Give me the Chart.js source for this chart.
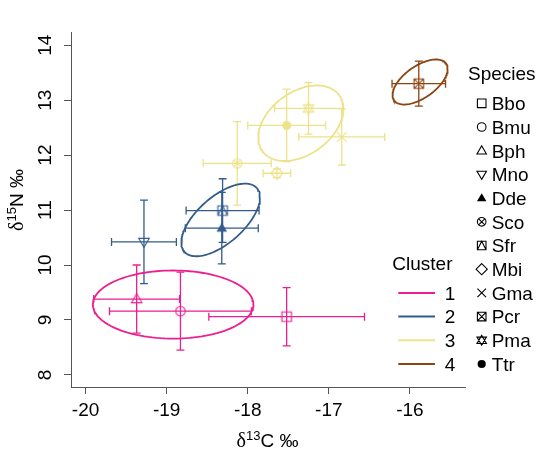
<!DOCTYPE html>
<html>
<head>
<meta charset="utf-8">
<script src="https://cdn.jsdelivr.net/npm/chart.js@4"></script>
<style>
html, body { margin: 0; padding: 0; background: #fff; }
canvas { display: block; }
</style>
</head>
<body>
<canvas id="isotope-chart" width="560" height="467"></canvas>
<script>
// Species means +/- SD (per mille)
var species = ["Bbo", "Bmu", "Bph", "Mno", "Dde", "Sco", "Sfr", "Mbi", "Gma", "Pcr", "Pma", "Ttr"];
var cluster = [1, 1, 1, 2, 2, 3, 2, 3, 3, 4, 3, 3];
var meanC = [-17.52, -18.83, -19.37, -19.28, -18.32, -18.13, -18.31, -17.64, -16.84, -15.89, -17.25, -17.52];
var meanN = [9.06, 9.16, 9.38, 10.42, 10.67, 11.85, 10.99, 11.67, 12.33, 13.30, 12.85, 12.54];
var sdC = [0.96, 0.875, 0.53, 0.40, 0.45, 0.42, 0.45, 0.17, 0.53, 0.33, 0.42, 0.48];
var sdN = [0.53, 0.71, 0.62, 0.76, 0.65, 0.76, 0.58, 0.08, 0.51, 0.41, 0.47, 0.66];

// Cluster ellipses: centre, half extents and correlation
var clusters = ["1", "2", "3", "4"];
var ellCX = [-18.92, -18.334, -17.345, -15.874];
var ellCY = [9.28, 10.82, 12.58, 13.33];
var ellRX = [0.99, 0.485, 0.525, 0.34];
var ellRY = [0.62, 0.661, 0.687, 0.41];
var ellRho = [0.0, 0.62, 0.38, 0.58];

var xTicks = [-20, -19, -18, -17, -16];
var yTicks = [8, 9, 10, 11, 12, 13, 14];

var clusterColors = ["#eb1f8f", "#335b8b", "#ede28a", "#8b4513"];
var shapes = ["square", "circle", "tri", "triDown", "triFill", "circleX", "squareTri", "diamond", "cross", "squareX", "star", "dot"];
var FONT = '"Liberation Sans", Arial, sans-serif';
var AXIS = "#555";

function tri(g, x, y, s, dir) {
    g.moveTo(x, y - dir * s * 1.15);
    g.lineTo(x - s * 1.1, y + dir * s * 0.75);
    g.lineTo(x + s * 1.1, y + dir * s * 0.75);
    g.closePath();
}

function drawShape(g, shape, x, y, s) {
    g.beginPath();
    switch (shape) {
        case "square": g.rect(x - s, y - s, 2 * s, 2 * s); g.stroke(); break;
        case "circle": g.arc(x, y, s, 0, 2 * Math.PI); g.stroke(); break;
        case "tri": tri(g, x, y, s, 1); g.stroke(); break;
        case "triDown": tri(g, x, y, s, -1); g.stroke(); break;
        case "triFill": tri(g, x, y, s, 1); g.fill(); break;
        case "circleX":
            g.arc(x, y, s, 0, 2 * Math.PI);
            var d = s * 0.7;
            g.moveTo(x - d, y - d); g.lineTo(x + d, y + d);
            g.moveTo(x + d, y - d); g.lineTo(x - d, y + d);
            g.stroke(); break;
        case "squareTri":
            g.rect(x - s, y - s, 2 * s, 2 * s);
            g.moveTo(x - s, y + s); g.lineTo(x, y - s); g.lineTo(x + s, y + s);
            g.stroke(); break;
        case "diamond":
            g.moveTo(x, y - s * 1.3); g.lineTo(x + s * 1.3, y);
            g.lineTo(x, y + s * 1.3); g.lineTo(x - s * 1.3, y); g.closePath();
            g.stroke(); break;
        case "cross":
            g.moveTo(x - s, y - s); g.lineTo(x + s, y + s);
            g.moveTo(x + s, y - s); g.lineTo(x - s, y + s);
            g.stroke(); break;
        case "squareX":
            g.rect(x - s, y - s, 2 * s, 2 * s);
            g.moveTo(x - s, y - s); g.lineTo(x + s, y + s);
            g.moveTo(x + s, y - s); g.lineTo(x - s, y + s);
            g.stroke(); break;
        case "star":
            tri(g, x, y, s, 1); tri(g, x, y, s, -1); g.stroke(); break;
        case "dot": g.arc(x, y, s * 0.95, 0, 2 * Math.PI); g.fill(); break;
    }
}

function makeSymbol(shape, color) {
    var c = document.createElement("canvas");
    c.width = 16; c.height = 16;
    var g = c.getContext("2d");
    g.strokeStyle = color; g.fillStyle = color; g.lineWidth = 1.1;
    drawShape(g, shape, 8, 8, 4.8);
    return c;
}

function ellipsePoints(k) {
    var pts = [];
    var q = Math.sqrt(1 - ellRho[k] * ellRho[k]);
    for (var i = 0; i <= 120; i++) {
        var t = i / 120 * 2 * Math.PI;
        pts.push({
            x: ellCX[k] + ellRX[k] * Math.cos(t),
            y: ellCY[k] + ellRY[k] * (ellRho[k] * Math.cos(t) + q * Math.sin(t))
        });
    }
    return pts;
}

var datasets = clusters.map(function (name, k) {
    return {
        label: "Cluster " + name,
        data: ellipsePoints(k),
        showLine: true,
        fill: false,
        borderColor: clusterColors[k],
        borderWidth: 1.8,
        pointRadius: 0,
        tension: 0
    };
});

datasets.push({
    label: "Species",
    data: species.map(function (s, i) { return { x: meanC[i], y: meanN[i] }; }),
    pointStyle: species.map(function (s, i) { return makeSymbol(shapes[i], clusterColors[cluster[i] - 1]); }),
    pointRadius: 5,
    showLine: false
});

// error bars behind the symbols
var errorBars = {
    id: "errorBars",
    beforeDatasetsDraw: function (chart) {
        var ctx = chart.ctx, xs = chart.scales.x, ys = chart.scales.y, cap = 4;
        ctx.save();
        ctx.lineWidth = 1.3;
        species.forEach(function (s, i) {
            ctx.strokeStyle = clusterColors[cluster[i] - 1];
            var px = xs.getPixelForValue(meanC[i]), py = ys.getPixelForValue(meanN[i]);
            var x0 = xs.getPixelForValue(meanC[i] - sdC[i]), x1 = xs.getPixelForValue(meanC[i] + sdC[i]);
            var y0 = ys.getPixelForValue(meanN[i] - sdN[i]), y1 = ys.getPixelForValue(meanN[i] + sdN[i]);
            ctx.beginPath();
            ctx.moveTo(x0, py); ctx.lineTo(x1, py);
            ctx.moveTo(x0, py - cap); ctx.lineTo(x0, py + cap);
            ctx.moveTo(x1, py - cap); ctx.lineTo(x1, py + cap);
            ctx.moveTo(px, y0); ctx.lineTo(px, y1);
            ctx.moveTo(px - cap, y0); ctx.lineTo(px + cap, y0);
            ctx.moveTo(px - cap, y1); ctx.lineTo(px + cap, y1);
            ctx.stroke();
        });
        ctx.restore();
    }
};

function drawIsoLabel(ctx, sup, rest, cx, baseY) {
    var big = "19px " + FONT, small = "13px " + FONT, delta = "20px \"Liberation Serif\", serif";
    ctx.font = delta; var w1 = ctx.measureText("\u03B4").width;
    ctx.font = small; var w2 = ctx.measureText(sup).width;
    ctx.font = big; var w3 = ctx.measureText(rest).width;
    var x = cx - (w1 + w2 + w3) / 2;
    ctx.textAlign = "left";
    ctx.textBaseline = "alphabetic";
    ctx.font = delta; ctx.fillText("\u03B4", x, baseY);
    ctx.font = small; ctx.fillText(sup, x + w1, baseY - 7);
    ctx.font = big; ctx.fillText(rest, x + w1 + w2, baseY);
}

var annotations = {
    id: "annotations",
    afterDraw: function (chart) {
        var ctx = chart.ctx, ys = chart.scales.y;
        ctx.save();
        ctx.fillStyle = "#000";
        ctx.font = "19px " + FONT;
        ctx.textBaseline = "alphabetic";

        // y tick labels, parallel to the axis
        yTicks.forEach(function (v) {
            ctx.save();
            ctx.translate(50.7, ys.getPixelForValue(v));
            ctx.rotate(-Math.PI / 2);
            ctx.textAlign = "center";
            ctx.fillText(String(v), 0, 0);
            ctx.restore();
        });

        // axis titles
        drawIsoLabel(ctx, "13", "C \u2030", 267.5, 447);
        ctx.save();
        ctx.translate(23, 200);
        ctx.rotate(-Math.PI / 2);
        drawIsoLabel(ctx, "15", "N \u2030", 0, 0);
        ctx.restore();

        // species legend
        ctx.font = "19px " + FONT;
        ctx.textAlign = "left";
        ctx.fillText("Species", 468, 79.5);
        ctx.strokeStyle = "#000";
        ctx.lineWidth = 1.1;
        species.forEach(function (s, i) {
            var ry = 103.3 + i * 23.7;
            drawShape(ctx, shapes[i], 481.7, ry, 4.3);
            ctx.fillText(s, 491.7, ry + 6.8);
        });

        // cluster legend
        ctx.fillText("Cluster", 392.3, 269.5);
        clusters.forEach(function (name, k) {
            var ry = 103.3 + (8 + k) * 23.7;
            ctx.strokeStyle = clusterColors[k];
            ctx.lineWidth = 2;
            ctx.beginPath();
            ctx.moveTo(398.3, ry); ctx.lineTo(435, ry);
            ctx.stroke();
            ctx.fillText(name, 444.7, ry + 6.8);
        });
        ctx.restore();
    }
};

var ctx = document.getElementById("isotope-chart").getContext("2d");
var isoChart = new Chart(ctx, {
    type: "scatter",
    data: { datasets: datasets },
    options: {
        responsive: false,
        animation: false,
        layout: { padding: { left: 0, top: 32, right: 95, bottom: 0 } },
        plugins: { legend: { display: false }, tooltip: { enabled: false } },
        scales: {
            x: {
                type: "linear",
                min: -20.18,
                max: -15.32,
                afterBuildTicks: function (s) { s.ticks = xTicks.map(function (v) { return { value: v }; }); },
                afterFit: function (s) { s.height = 80; },
                grid: { drawOnChartArea: false, drawTicks: true, tickLength: 7, tickColor: AXIS, tickWidth: 1 },
                border: { display: true, color: AXIS, width: 1 },
                ticks: { color: "#000", padding: 5, maxRotation: 0, font: { family: FONT, size: 19 } }
            },
            y: {
                type: "linear",
                min: 7.78,
                max: 14.24,
                afterBuildTicks: function (s) { s.ticks = yTicks.map(function (v) { return { value: v }; }); },
                afterFit: function (s) { s.width = 71; },
                grid: { drawOnChartArea: false, drawTicks: true, tickLength: 7, tickColor: AXIS, tickWidth: 1 },
                border: { display: true, color: AXIS, width: 1 },
                ticks: { display: false }
            }
        }
    },
    plugins: [errorBars, annotations]
});
</script>
</body>
</html>
